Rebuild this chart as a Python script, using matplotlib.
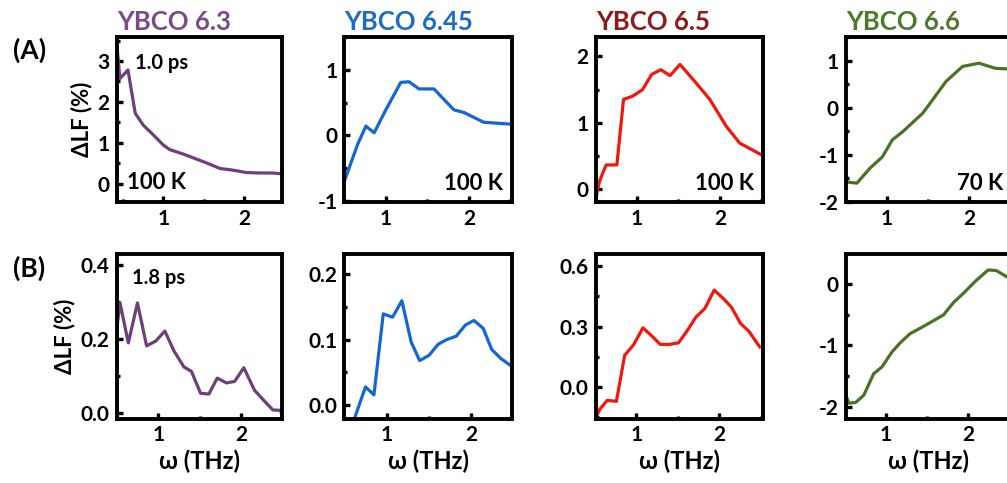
import matplotlib

matplotlib.use("Agg")
import matplotlib.pyplot as plt
from matplotlib.ticker import MultipleLocator, FormatStrFormatter

plt.rcParams["font.family"] = ["Lato", "DejaVu Sans"]
plt.rcParams["font.weight"] = "bold"
plt.rcParams["axes.unicode_minus"] = False

SAMPLES = ["YBCO 6.3", "YBCO 6.45", "YBCO 6.5", "YBCO 6.6"]
TITLE_COLORS = ["#7B4A87", "#1E6CC0", "#8E1B1B", "#4C7A2A"]
LINE_COLORS = ["#6E3F78", "#1466D2", "#F0180C", "#4A7226"]
TEMPS = ["100 K", "100 K", "100 K", "70 K"]

# row A: 1.0 ps
a1_x = [0.42, 0.46, 0.56, 0.65, 0.75, 0.88, 1.0, 1.08, 1.25, 1.45, 1.58, 1.70, 1.86, 2.03, 2.19, 2.35, 2.47]
a1_y = [3.43, 2.57, 2.78, 1.72, 1.43, 1.18, 0.94, 0.83, 0.72, 0.57, 0.47, 0.37, 0.33, 0.27, 0.26, 0.26, 0.24]
a2_x = [0.51, 0.66, 0.76, 0.86, 1.0, 1.18, 1.28, 1.4, 1.58, 1.82, 1.94, 2.18, 2.52]
a2_y = [-0.67, -0.14, 0.14, 0.04, 0.39, 0.81, 0.82, 0.71, 0.71, 0.39, 0.35, 0.20, 0.17]
a3_x = [0.50, 0.55, 0.63, 0.76, 0.84, 0.95, 1.07, 1.18, 1.29, 1.40, 1.52, 1.68, 1.88, 2.08, 2.24, 2.52]
a3_y = [-0.19, 0.11, 0.36, 0.36, 1.35, 1.40, 1.50, 1.73, 1.80, 1.71, 1.88, 1.65, 1.35, 0.94, 0.69, 0.50]
a4_x = [0.50, 0.64, 0.80, 0.95, 1.07, 1.20, 1.44, 1.72, 1.92, 2.12, 2.32, 2.45, 2.52]
a4_y = [-1.57, -1.60, -1.28, -1.04, -0.68, -0.50, -0.11, 0.56, 0.88, 0.95, 0.84, 0.83, 0.82]

# row B: 1.8 ps
b1_x = [0.50, 0.54, 0.64, 0.75, 0.86, 0.97, 1.08, 1.19, 1.31, 1.40, 1.51, 1.61, 1.71, 1.82, 1.92, 2.03, 2.16, 2.27, 2.38, 2.47, 2.50]
b1_y = [0.227, 0.298, 0.19, 0.298, 0.182, 0.195, 0.222, 0.168, 0.125, 0.113, 0.054, 0.052, 0.095, 0.082, 0.086, 0.123, 0.062, 0.035, 0.009, 0.008, -0.009]
b2_x = [0.62, 0.75, 0.85, 0.96, 1.07, 1.18, 1.29, 1.39, 1.50, 1.61, 1.71, 1.82, 1.93, 2.03, 2.14, 2.24, 2.35, 2.47]
b2_y = [-0.02, 0.028, 0.016, 0.139, 0.134, 0.159, 0.096, 0.068, 0.076, 0.093, 0.100, 0.105, 0.122, 0.129, 0.117, 0.085, 0.071, 0.060]
b3_x = [0.51, 0.56, 0.65, 0.76, 0.86, 0.97, 1.08, 1.19, 1.29, 1.40, 1.51, 1.61, 1.72, 1.83, 1.94, 2.05, 2.15, 2.26, 2.36, 2.49]
b3_y = [-0.152, -0.109, -0.065, -0.07, 0.158, 0.212, 0.294, 0.253, 0.212, 0.212, 0.22, 0.277, 0.347, 0.391, 0.481, 0.44, 0.396, 0.315, 0.277, 0.20]
b4_x = [0.51, 0.55, 0.63, 0.73, 0.85, 0.95, 1.07, 1.17, 1.29, 1.40, 1.52, 1.70, 1.82, 1.94, 2.08, 2.24, 2.34, 2.44, 2.52]
b4_y = [-1.81, -1.94, -1.93, -1.81, -1.46, -1.35, -1.11, -0.96, -0.81, -0.73, -0.64, -0.50, -0.30, -0.15, 0.04, 0.23, 0.22, 0.14, 0.08]

ROW_A = [(a1_x, a1_y), (a2_x, a2_y), (a3_x, a3_y), (a4_x, a4_y)]
ROW_B = [(b1_x, b1_y), (b2_x, b2_y), (b3_x, b3_y), (b4_x, b4_y)]

YLIM_A = [(-0.45, 3.58), (-1.02, 1.5), (-0.2, 2.29), (-2.0, 1.5)]
YLIM_B = [(-0.014, 0.43), (-0.02, 0.23), (-0.155, 0.66), (-2.19, 0.49)]
XLIM_A = [(0.42, 2.47), (0.5, 2.52), (0.505, 2.52), (0.505, 2.52)]
XLIM_B = [(0.5, 2.49), (0.5, 2.48), (0.51, 2.53), (0.51, 2.53)]
YSTEP_A = [1, 1, 1, 1]
YSTEP_B = [0.2, 0.1, 0.3, 1]
YFMT_A = ["%d"] * 4
YFMT_B = ["%.1f", "%.1f", "%.1f", "%d"]

W, H = 1007, 483
fig = plt.figure(figsize=(W / 100, H / 100), dpi=100)
LEFTS = [116.7, 344.3, 595.7, 845.7]
WIDTHS = [165.3, 167.7, 167.3, 166.3]


def px_axes(left, top, width, height):
    return fig.add_axes([left / W, 1 - (top + height) / H, width / W, height / H])


def style(ax, xlim, ylim, ystep, yfmt):
    ax.set_xlim(*xlim)
    ax.set_ylim(*ylim)
    ax.xaxis.set_major_locator(MultipleLocator(1))
    ax.xaxis.set_minor_locator(MultipleLocator(0.5))
    ax.yaxis.set_major_locator(MultipleLocator(ystep))
    ax.yaxis.set_minor_locator(MultipleLocator(ystep / 2))
    ax.yaxis.set_major_formatter(FormatStrFormatter(yfmt))
    ax.xaxis.set_major_formatter(FormatStrFormatter("%d"))
    ax.tick_params(which="both", direction="in", top=False, right=False,
                   width=2.4, labelsize=15, pad=5)
    ax.tick_params(which="major", length=4.5)
    ax.tick_params(which="minor", length=2.5)
    for s in ax.spines.values():
        s.set_linewidth(2.8)
    for lab in ax.get_xticklabels() + ax.get_yticklabels():
        lab.set_fontweight("bold")


for i in range(4):
    # row A
    ax = px_axes(LEFTS[i], 37.3, WIDTHS[i], 164.7)
    x, y = ROW_A[i]
    ax.plot(x, y, color=LINE_COLORS[i], lw=2.3)
    style(ax, XLIM_A[i], YLIM_A[i], YSTEP_A[i], YFMT_A[i])
    ax.set_title(SAMPLES[i], loc="left", color=TITLE_COLORS[i],
                 fontsize=18.5, fontweight="bold", pad=5)
    if i == 0:
        ax.set_ylabel("ΔLF (%)", fontsize=16, fontweight="bold", labelpad=4)
        ax.text(0.11, 0.845, "1.0 ps", transform=ax.transAxes, fontsize=14.5,
                fontweight="bold", va="center")
        ax.text(0.06, 0.117, TEMPS[i], transform=ax.transAxes, fontsize=16,
                fontweight="bold", va="center")
    else:
        ax.text(0.945, 0.11, TEMPS[i], transform=ax.transAxes, fontsize=16,
                fontweight="bold", va="center", ha="right")

    # row B
    ax = px_axes(LEFTS[i], 254.0, WIDTHS[i], 164.5)
    x, y = ROW_B[i]
    ax.plot(x, y, color=LINE_COLORS[i], lw=2.3)
    style(ax, XLIM_B[i], YLIM_B[i], YSTEP_B[i], YFMT_B[i])
    ax.set_xlabel("ω (THz)", fontsize=17, fontweight="bold", labelpad=3)
    if i == 0:
        ax.set_ylabel("ΔLF (%)", fontsize=16, fontweight="bold", labelpad=4)
        ax.text(0.095, 0.857, "1.8 ps", transform=ax.transAxes, fontsize=14.5,
                fontweight="bold", va="center")

fig.text(13 / W, 1 - 50 / H, "(A)", fontsize=19, fontweight="bold", va="center")
fig.text(13 / W, 1 - 268 / H, "(B)", fontsize=19, fontweight="bold", va="center")

fig.savefig("out.png", dpi=100)
